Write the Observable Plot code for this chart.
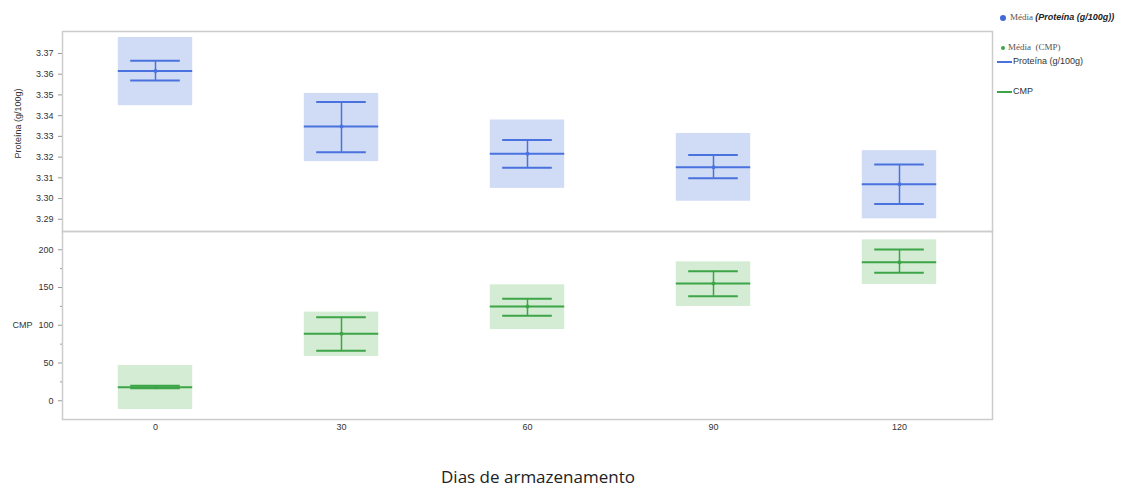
<!DOCTYPE html>
<html>
<head>
<meta charset="utf-8">
<script src="https://cdn.jsdelivr.net/npm/d3@7"></script>
<script src="https://cdn.jsdelivr.net/npm/@observablehq/plot@0.6"></script>
<style>
  html, body { margin: 0; padding: 0; background: #fff; }
  #wrap { position: relative; width: 1134px; height: 488px; overflow: hidden; font-family: "Liberation Sans", Arial, sans-serif; }
  #top, #bottom { position: absolute; left: 0; }
  #top { top: 0; }
  #bottom { top: 230px; }
  #xlabel { position: absolute; left: 0; width: 1076px; top: 465px; text-align: center; font-family: "Open Sans", "Liberation Sans", sans-serif; font-size: 17px; color: #222; }
  #legend { position: absolute; left: 996px; top: 0; font-size: 9px; color: #333; }
  .lg { position: absolute; white-space: nowrap; }
  .serif { font-family: "Liberation Serif", "DejaVu Serif", serif; color: #555; }
  .ln { vertical-align: middle; margin-right: 1px; }
</style>
</head>
<body>
<div id="wrap">
  <div id="top"></div>
  <div id="bottom"></div>
  <div id="xlabel">Dias de armazenamento</div>
  <div id="legend">
    <div class="lg" style="left:4px; top:12px;"><span style="display:inline-block;width:6px;height:6px;border-radius:3px;background:#4169d8;margin-right:4px;vertical-align:middle"></span><span class="serif">Média </span><b><i style="color:#222">(Proteína (g/100g))</i></b></div>
    <div class="lg" style="left:5px; top:42px;"><span style="display:inline-block;width:4px;height:4px;border-radius:2px;background:#3da447;margin-right:3px;vertical-align:middle"></span><span class="serif">Média &nbsp;(CMP)</span></div>
    <div class="lg" style="left:1px; top:56px;"><svg class="ln" width="15" height="4"><line x1="0" x2="15" y1="2" y2="2" stroke="#4a72de" stroke-width="2"/></svg><span>Proteína (g/100g)</span></div>
    <div class="lg" style="left:1px; top:86px;"><svg class="ln" width="15" height="4"><line x1="0" x2="15" y1="2" y2="2" stroke="#3da447" stroke-width="2"/></svg><span>CMP</span></div>
  </div>
</div>
<script>
// ---- data ----
const days = [0, 30, 60, 90, 120];

const protMean  = [3.3615, 3.3348, 3.3216, 3.3151, 3.3069];
const protErrLo = [3.3570, 3.3223, 3.3149, 3.3098, 3.2974];
const protErrHi = [3.3665, 3.3466, 3.3283, 3.3210, 3.3164];
const protBoxLo = [3.3448, 3.3178, 3.3049, 3.2987, 3.2902];
const protBoxHi = [3.3777, 3.3507, 3.3379, 3.3314, 3.3231];

const cmpMean  = [18, 88.7, 124.9, 155.4, 183.6];
const cmpErrLo = [16.5, 66.2, 112.6, 138.5, 169.5];
const cmpErrHi = [20, 110.7, 135.1, 171.7, 200.4];
const cmpBoxLo = [-11.5, 58.7, 94.4, 124.9, 154];
const cmpBoxHi = [46.8, 117.4, 153.6, 184, 213.2];

const protTicks = [3.29, 3.30, 3.31, 3.32, 3.33, 3.34, 3.35, 3.36, 3.37];
const cmpTicks = [0, 50, 100, 150, 200];
const cmpMinorTicks = [-25, 25, 75, 125, 175, 225];

// ---- build tables ----
const prot = days.map((d, i) => ({day: d, mean: protMean[i], lo: protErrLo[i], hi: protErrHi[i], blo: protBoxLo[i], bhi: protBoxHi[i]}));
const cmp  = days.map((d, i) => ({day: d, mean: cmpMean[i], lo: cmpErrLo[i], hi: cmpErrHi[i], blo: cmpBoxLo[i], bhi: cmpBoxHi[i]}));

const BOX = 6, CAP = 4;
const xDomain = [-15, 135];
const W = 1000, ML = 62, MR = 8;
const frameColor = "#cccccc";
const tickText = "#333";
const FONT = "Liberation Sans, Arial, sans-serif";

function panelMarks(data, line, fill) {
  return [
    Plot.rect(data, {x1: d => d.day - BOX, x2: d => d.day + BOX, y1: "blo", y2: "bhi", fill: fill}),
    Plot.ruleY(data, {y: "mean", x1: d => d.day - BOX, x2: d => d.day + BOX, stroke: line, strokeWidth: 2}),
    Plot.ruleX(data, {x: "day", y1: "lo", y2: "hi", stroke: line, strokeWidth: 1.5}),
    Plot.ruleY(data, {y: "lo", x1: d => d.day - CAP, x2: d => d.day + CAP, stroke: line, strokeWidth: 2}),
    Plot.ruleY(data, {y: "hi", x1: d => d.day - CAP, x2: d => d.day + CAP, stroke: line, strokeWidth: 2}),
    Plot.dot(data, {x: "day", y: "mean", r: 2, fill: line})
  ];
}

const topPlot = Plot.plot({
  width: W, height: 232,
  marginLeft: ML, marginRight: MR, marginTop: 31, marginBottom: 1,
  style: {fontFamily: FONT, fontSize: "9px", background: "transparent", overflow: "visible"},
  x: {domain: xDomain, axis: null},
  y: {domain: [3.2841, 3.3806], axis: null},
  marks: [
    ...panelMarks(prot, "#4a72de", "#d0dcf5"),
    Plot.axisY({ticks: protTicks, tickFormat: d3.format(".2f"), tickSize: 4, tickPadding: 5, label: null, stroke: "#999", fill: tickText}),
    Plot.text(["Proteína (g/100g)"], {frameAnchor: "left", textAnchor: "middle", dx: -44, dy: -8, rotate: -90, fontSize: 9, fill: tickText}),
    Plot.frame({stroke: frameColor, strokeWidth: 1.5})
  ]
});
document.getElementById("top").appendChild(topPlot);

const bottomPlot = Plot.plot({
  width: W, height: 258,
  marginLeft: ML, marginRight: MR, marginTop: 1, marginBottom: 69,
  style: {fontFamily: FONT, fontSize: "9px", background: "transparent", overflow: "visible"},
  x: {domain: xDomain, axis: null},
  y: {domain: [-24.8, 224.2], axis: null},
  marks: [
    ...panelMarks(cmp, "#3da447", "#d3ecd3"),
    Plot.axisY({ticks: cmpTicks, tickSize: 4, tickPadding: 5, label: null, stroke: "#999", fill: tickText}),
    Plot.axisY({ticks: cmpMinorTicks.filter(v => v > -24.8 && v < 224.2), tickSize: 2, text: null, label: null, stroke: "#999"}),
    Plot.axisX({ticks: days, tickSize: 0, tickPadding: 4, label: null, fill: tickText}),
    Plot.text(["CMP"], {frameAnchor: "left", dx: -30, textAnchor: "end", fontSize: 9, fill: tickText}),
    Plot.frame({stroke: frameColor, strokeWidth: 1.5})
  ]
});
document.getElementById("bottom").appendChild(bottomPlot);
</script>
</body>
</html>
